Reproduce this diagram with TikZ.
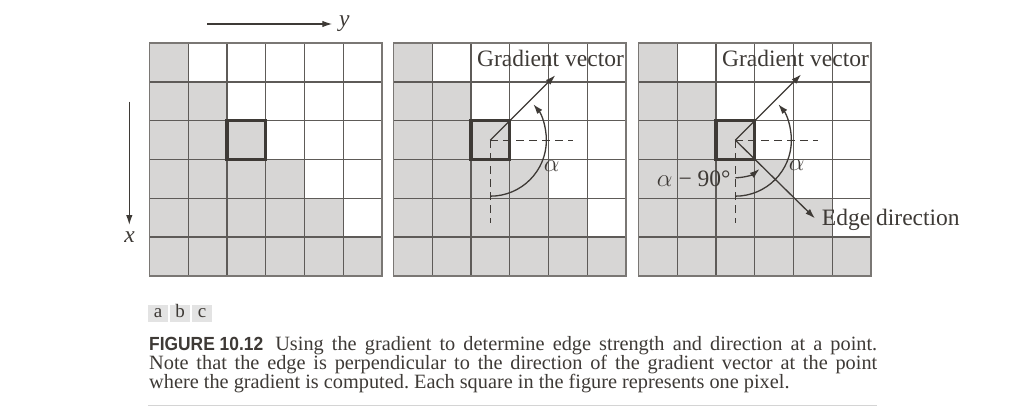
\documentclass[tikz,border=0pt]{standalone}
\usepackage{fontspec}
\setmainfont{Liberation Serif}
\setsansfont{Liberation Sans}
\usepackage{graphicx}
\usetikzlibrary{arrows.meta}
\definecolor{ink}{HTML}{3E3A36}
\definecolor{cellgray}{HTML}{D7D6D5}
\definecolor{gridline}{HTML}{5E5B58}
\definecolor{framegray}{HTML}{7A7774}
\definecolor{tagbg}{HTML}{E3E3E3}
\definecolor{rulegray}{HTML}{D4D4D4}
\frenchspacing
\tikzset{
  gridln/.style={draw=gridline, line width=1.3pt},
  frameln/.style={draw=framegray, line width=1.9pt},
  boldsq/.style={draw=ink, line width=3.2pt},
  vec/.style={draw=ink, line width=1.3pt, -{Latex[length=10pt,width=6.5pt]}},
  dashln/.style={draw=ink, line width=1.2pt, dash pattern=on 8pt off 5pt},
  biglab/.style={font=\fontsize{23.5}{28}\selectfont, text=ink, inner sep=0pt},
  caplab/.style={font=\fontsize{20.3}{20}\selectfont, text=ink, inner sep=0pt, anchor=base west},
  tagbox/.style={fill=tagbg, draw=none},
  taglab/.style={font=\fontsize{19}{19}\selectfont, text=ink, inner sep=0pt, anchor=base},
}
\newcommand\pixgrid{%
  \fill[cellgray] (0,0) -- (6,0) -- (6,1) -- (5,1) -- (5,2) -- (4,2) -- (4,3) -- (3,3) -- (3,4) -- (2,4) -- (2,5) -- (1,5) -- (1,6) -- (0,6) -- cycle;
  \foreach \k in {1,...,5} {
    \draw[gridln] (\k,0) -- (\k,6);
    \draw[gridln] (0,\k) -- (6,\k);
  }
  \draw[frameln] (0,0) rectangle (6,6);
  \draw[boldsq] (2,3) rectangle (3,4);
}
\begin{document}
\begin{tikzpicture}[x=1pt,y=1pt]
\useasboundingbox (0,0) rectangle (1033,408);
\fill[white] (0,0) rectangle (1033,408);

% axes
\coordinate (ya) at (207.3,384);
\coordinate (yb) at (332.3,384);
\draw[vec] (ya) -- (yb);
\node[biglab, anchor=base west] (ylab) at (339,381) {\itshape y};
\coordinate (xa) at (129.3,306.3);
\coordinate (xb) at (129.3,183);
\draw[vec] (xa) -- (xb);
\node[biglab, anchor=base] (xlab) at (129.5,165.3) {\itshape x};

% grid a
\begin{scope}[shift={(149.5,132.2)}, x=38.75pt, y=38.75pt]
  \pixgrid
\end{scope}

% grid b
\begin{scope}[shift={(393.5,132.2)}, x=38.75pt, y=38.75pt]
  \pixgrid
  \coordinate (c2) at (2.5,3.5);
  \coordinate (h2) at (4.62,3.5);
  \coordinate (v2) at (2.5,1.36);
  \coordinate (g2) at ([shift={(45:2.37)}]c2);
  \coordinate (a2s) at ([shift={(-90:1.445)}]c2);
  \draw[dashln] (c2) -- (h2);
  \draw[dashln] (c2) -- (v2);
  \draw[vec] (c2) -- (g2);
  \draw[vec] (a2s) arc[start angle=-90, end angle=40, radius=1.445];
  \node[biglab, anchor=base] (gv2) at (4.05,5.4) {Gradient vector};
  \node[biglab] (al2) at ([shift={(1.58,-0.68)}]c2) {$\alpha$};
\end{scope}

% grid c
\begin{scope}[shift={(638.5,132.2)}, x=38.75pt, y=38.75pt]
  \pixgrid
  \coordinate (c3) at (2.5,3.5);
  \coordinate (h3) at (4.62,3.5);
  \coordinate (v3) at (2.5,1.36);
  \coordinate (g3) at ([shift={(45:2.4)}]c3);
  \coordinate (e3) at ([shift={(-44.5:2.88)}]c3);
  \coordinate (a3s) at ([shift={(-90:1.445)}]c3);
  \coordinate (b3s) at ([shift={(-90:0.97)}]c3);
  \draw[dashln] (c3) -- (h3);
  \draw[dashln] (c3) -- (v3);
  \draw[vec] (c3) -- (g3);
  \draw[vec] (c3) -- (e3);
  \draw[vec] (a3s) arc[start angle=-90, end angle=40, radius=1.445];
  \draw[vec] (b3s) arc[start angle=-90, end angle=-50, radius=0.97];
  \node[biglab, anchor=base] (gv3) at (4.05,5.4) {Gradient vector};
  \node[biglab] (al3) at ([shift={(1.58,-0.64)}]c3) {$\alpha$};
  \node[biglab, anchor=base east] (am3) at ([shift={(-0.12,-1.2)}]c3) {$\alpha$ − 90°};
  \node[biglab, anchor=base west] (ed3) at ([shift={(2.23,-2.19)}]c3) {Edge direction};
\end{scope}

% panel tags
\fill[tagbox] (148,86) rectangle (168,103);
\fill[tagbox] (170,86) rectangle (190,103);
\fill[tagbox] (192,86) rectangle (212,103);
\node[taglab] (ta) at (158,90.3) {a};
\node[taglab] (tb) at (180,90.3) {b};
\node[taglab] (tc) at (202,90.3) {c};

% caption
\node[caplab] (cap1) at (149,57.3) {\makebox[728pt][s]{\resizebox{114pt}{\height}{\fontsize{19}{19}\sffamily\bfseries FIGURE 10.12}\hspace{4pt} Using the gradient to determine edge strength and direction at a point.}};
\node[caplab] (cap2) at (149,38.5) {\makebox[728pt][s]{Note that the edge is perpendicular to the direction of the gradient vector at the point}};
\node[caplab] (cap3) at (149,19.7) {where the gradient is computed. Each square in the figure represents one pixel.};
\draw[rulegray, line width=1pt] (148,3) -- (877,3);
\end{tikzpicture}
\end{document}
